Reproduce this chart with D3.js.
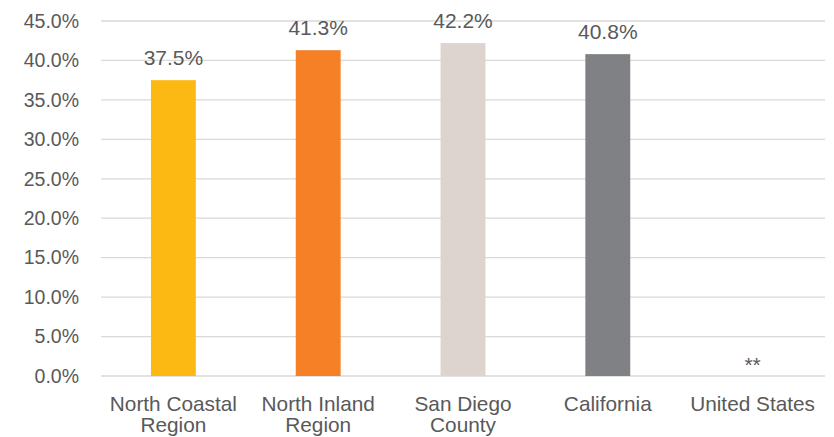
<!DOCTYPE html>
<html><head><meta charset="utf-8">
<script src="https://cdn.jsdelivr.net/npm/d3@7"></script>
<style>
html,body{margin:0;padding:0;background:#fff;}
text{font-family:"Liberation Sans",Arial,sans-serif;fill:#595959;}
</style></head>
<body>
<svg id="chart" width="834" height="437"></svg>
<script>
const categories = [["North Coastal","Region"],["North Inland","Region"],["San Diego","County"],["California"],["United States"]];
const values = [37.5, 41.3, 42.2, 40.8, null];
const colors = ["#FDB913","#F58025","#DDD4CF","#808184","#808184"];
const yTicks = [0,5,10,15,20,25,30,35,40,45];
const missingLabel = "**";

const svg = d3.select("#chart");
const M = {left:101, right:825, top:21, bottom:376};

const x = d3.scaleBand().domain(d3.range(categories.length)).range([M.left,M.right]).paddingInner(0.69).paddingOuter(0.345);
const y = d3.scaleLinear().domain([0,45]).range([M.bottom,M.top]);

// gridlines
svg.append("g").selectAll("line").data(yTicks).join("line")
  .attr("x1",M.left).attr("x2",M.right)
  .attr("y1",d=>y(d)).attr("y2",d=>y(d))
  .attr("stroke","#D9D9D9").attr("stroke-width",1.3);

// y axis labels
const yAxis = d3.axisLeft(y).tickValues(yTicks).tickFormat(d=>d.toFixed(1)+"%").tickSize(0).tickPadding(22);
const ga = svg.append("g").attr("transform",`translate(${M.left},0)`).call(yAxis);
ga.select(".domain").remove();
ga.selectAll("text").attr("font-size",19.5).attr("fill","#595959").style("font-family","'Liberation Sans',Arial,sans-serif");

// bars
const data = values.map((v,i)=>({v,i}));
svg.append("g").selectAll("rect").data(data.filter(d=>d.v!=null)).join("rect")
  .attr("x",d=>x(d.i)).attr("width",x.bandwidth())
  .attr("y",d=>y(d.v)).attr("height",d=>y(0)-y(d.v))
  .attr("fill",d=>colors[d.i]);

// value labels
svg.append("g").selectAll("text").data(data).join("text")
  .attr("x",d=>x(d.i)+x.bandwidth()/2)
  .attr("y",d=>d.v!=null ? y(d.v)-15 : y(0)-4)
  .attr("text-anchor","middle").attr("font-size",21)
  .text(d=>d.v!=null ? d.v.toFixed(1)+"%" : missingLabel);

// category labels
const cl = svg.append("g").selectAll("text").data(categories).join("text")
  .attr("x",(d,i)=>x(i)+x.bandwidth()/2)
  .attr("y",411).attr("text-anchor","middle").attr("font-size",20.8);
cl.selectAll("tspan").data(d=>d).join("tspan")
  .attr("x",function(){return this.parentNode.getAttribute("x");})
  .attr("dy",(d,i)=>i===0?0:21).text(d=>d);
</script>
</body></html>
